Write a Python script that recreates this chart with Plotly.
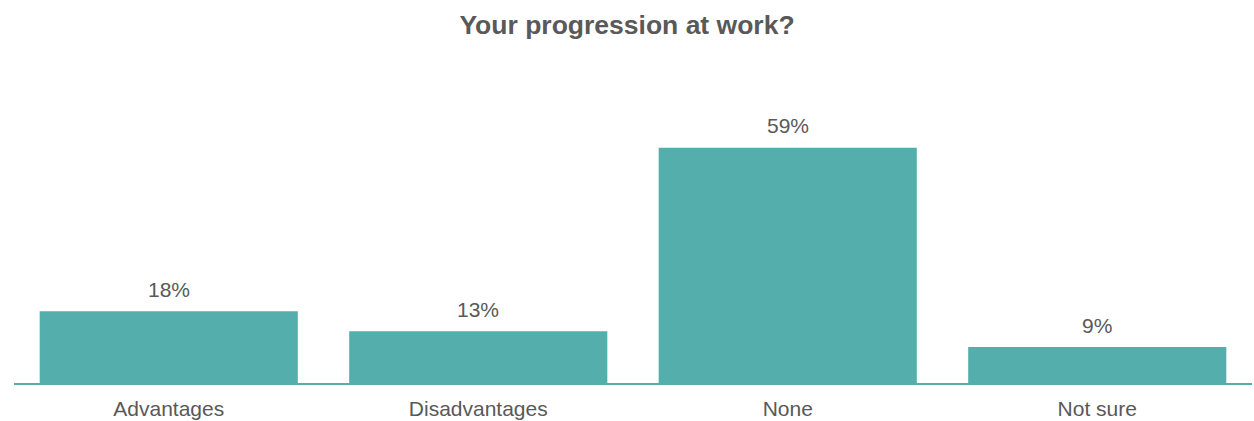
import plotly.graph_objects as go

categories = ["Advantages", "Disadvantages", "None", "Not sure"]
values = [18, 13, 59, 9]
labels = ["18%", "13%", "59%", "9%"]

TEAL = "#53AEAC"
GREY = "#595959"
FONT = "Liberation Sans, Arial, sans-serif"

fig = go.Figure(go.Bar(
    x=categories, y=values,
    marker=dict(color=TEAL, line=dict(width=0)),
    hoverinfo="skip",
))

for c, v, t in zip(categories, values, labels):
    fig.add_annotation(x=c, y=v, text=t, showarrow=False, yanchor="middle",
                       yshift=22, font=dict(family=FONT, size=21, color=GREY))

fig.update_layout(
    width=1254, height=421,
    margin=dict(l=14, r=2, t=80, b=38),
    paper_bgcolor="white", plot_bgcolor="white",
    bargap=0.166,
    title=dict(text="<b>Your progression at work?</b>", x=0.5, xanchor="center",
               y=1 - 25 / 421, yanchor="middle",
               font=dict(family=FONT, size=26.5, color=GREY)),
    xaxis=dict(showline=True, linecolor=TEAL, linewidth=1.5, showgrid=False,
               ticks="", tickfont=dict(family=FONT, size=21, color=GREY),
               ticklabelstandoff=6),
    yaxis=dict(range=[0, 76], visible=False, showgrid=False),
    showlegend=False,
)

fig.write_html("out.html", config={"displayModeBar": False},
               post_script="document.body.style.margin='0';document.body.style.overflow='hidden';")
